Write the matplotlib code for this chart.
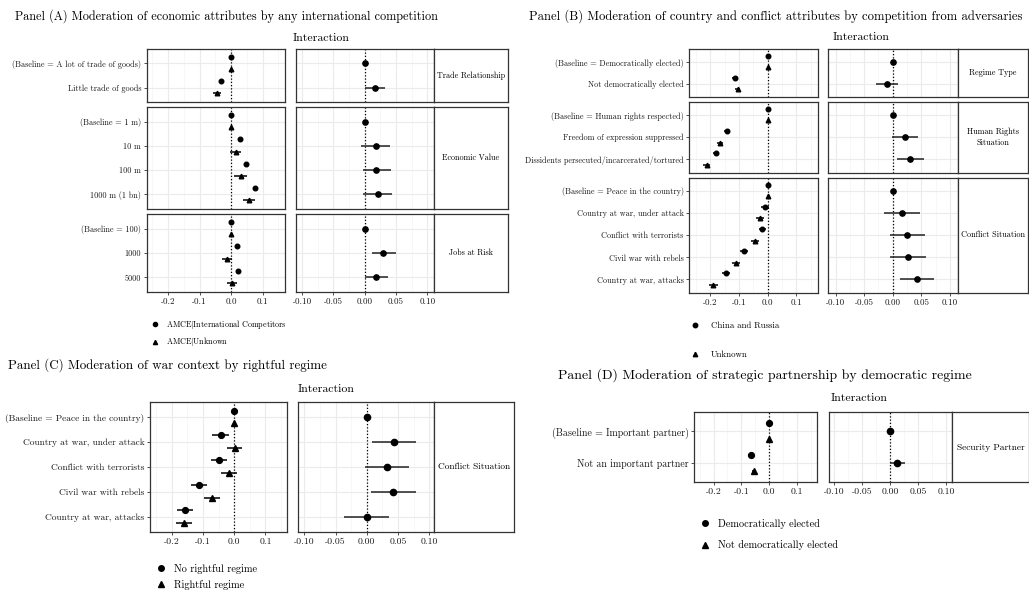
import numpy as np
import matplotlib.pyplot as plt
from matplotlib.lines import Line2D

plt.rcParams['font.family'] = ['cmr10', 'DejaVu Serif']
plt.rcParams['axes.unicode_minus'] = False
plt.rcParams['mathtext.fontset'] = 'cm'

# ---------------- data ----------------
# Panel A : economic attributes x international competition
A_trade_labels = ['(Baseline = A lot of trade of goods)', 'Little trade of goods']
A_trade_comp = [0.0, -0.032]
A_trade_comp_se = [0.0, 0.008]
A_trade_unk = [0.0, -0.044]
A_trade_unk_se = [0.0, 0.013]
A_trade_int = [0.0, 0.016]
A_trade_int_lo = [0.0, 0.000]
A_trade_int_hi = [0.0, 0.032]

A_value_labels = ['(Baseline = 1 m)', '10 m', '100 m', '1000 m (1 bn)']
A_value_comp = [0.0, 0.029, 0.048, 0.076]
A_value_comp_se = [0.0, 0.008, 0.008, 0.008]
A_value_unk = [0.0, 0.014, 0.030, 0.057]
A_value_unk_se = [0.0, 0.018, 0.020, 0.020]
A_value_int = [0.0, 0.0175, 0.0186, 0.0207]
A_value_int_lo = [0.0, -0.005, -0.003, -0.002]
A_value_int_hi = [0.0, 0.040, 0.042, 0.044]

A_jobs_labels = ['(Baseline = 100)', '1000', '5000']
A_jobs_comp = [0.0, 0.020, 0.022]
A_jobs_comp_se = [0.0, 0.008, 0.008]
A_jobs_unk = [0.0, -0.012, 0.003]
A_jobs_unk_se = [0.0, 0.016, 0.017]
A_jobs_int = [0.0, 0.030, 0.018]
A_jobs_int_lo = [0.0, 0.011, 0.000]
A_jobs_int_hi = [0.0, 0.050, 0.038]

# Panel B : country / conflict attributes x adversaries
B_regime_labels = ['(Baseline = Democratically elected)', 'Not democratically elected']
B_regime_cr = [0.0, -0.114]
B_regime_cr_se = [0.0, 0.010]
B_regime_unk = [0.0, -0.105]
B_regime_unk_se = [0.0, 0.010]
B_regime_int = [0.0, -0.0094]
B_regime_int_lo = [0.0, -0.029]
B_regime_int_hi = [0.0, 0.010]

B_rights_labels = ['(Baseline = Human rights respected)', 'Freedom of expression suppressed',
                   'Dissidents persecuted/incarcerated/tortured']
B_rights_cr = [0.0, -0.141, -0.181]
B_rights_cr_se = [0.0, 0.011, 0.011]
B_rights_unk = [0.0, -0.165, -0.212]
B_rights_unk_se = [0.0, 0.011, 0.012]
B_rights_int = [0.0, 0.0215, 0.031]
B_rights_int_lo = [0.0, -0.002, 0.007]
B_rights_int_hi = [0.0, 0.045, 0.055]

war_labels = ['(Baseline = Peace in the country)', 'Country at war, under attack',
              'Conflict with terrorists', 'Civil war with rebels', 'Country at war, attacks']
B_war_cr = [0.0, -0.010, -0.019, -0.083, -0.146]
B_war_cr_se = [0.0, 0.015, 0.013, 0.013, 0.013]
B_war_unk = [0.0, -0.027, -0.044, -0.110, -0.189]
B_war_unk_se = [0.0, 0.014, 0.013, 0.013, 0.015]
B_war_int = [0.0, 0.016, 0.025, 0.027, 0.043]
B_war_int_lo = [0.0, -0.015, -0.005, -0.004, 0.013]
B_war_int_hi = [0.0, 0.048, 0.056, 0.058, 0.073]

# Panel C : war context x rightful regime
C_war_norr = [0.0, -0.044, -0.050, -0.114, -0.159]
C_war_norr_se = [0.0, 0.026, 0.026, 0.026, 0.026]
C_war_rr = [0.0, 0.001, -0.017, -0.071, -0.161]
C_war_rr_se = [0.0, 0.024, 0.025, 0.026, 0.026]
C_war_int = [0.0, 0.043, 0.033, 0.042, 0.000]
C_war_int_lo = [0.0, 0.008, -0.003, 0.007, -0.036]
C_war_int_hi = [0.0, 0.079, 0.068, 0.078, 0.035]

# Panel D : strategic partnership x democratic regime
D_partner_labels = ['(Baseline = Important partner)', 'Not an important partner']
D_partner_dem = [0.0, -0.067]
D_partner_dem_se = [0.0, 0.008]
D_partner_nondem = [0.0, -0.054]
D_partner_nondem_se = [0.0, 0.008]
D_partner_int = [0.0, 0.012]
D_partner_int_lo = [0.0, 0.000]
D_partner_int_hi = [0.0, 0.027]

# ---------------- figure ----------------
W, H = 1029, 591
fig = plt.figure(figsize=(W / 100, H / 100), dpi=100)
ink = '#333333'


def px_axes(x0, y0, x1, y1):
    return fig.add_axes([x0 / W, 1 - y1 / H, (x1 - x0) / W, (y1 - y0) / H])


def style(ax):
    ax.grid(True, which='major', color='#ebebeb', lw=0.8)
    ax.grid(True, which='minor', axis='x', color='#f4f4f4', lw=0.5)
    ax.set_axisbelow(True)
    for s in ax.spines.values():
        s.set_color(ink)
        s.set_linewidth(0.9)
    ax.tick_params(which='both', color=ink, width=0.6, length=2.5, labelcolor='#1a1a1a', pad=1.5)
    ax.tick_params(which='minor', length=0)


def facet(rowL, rowR, xl, xr, xs, labels, e1, s1, e2, s2, ie, ilo, ihi, strip,
          lims_l, lims_r, bottom, lab_fs, tick_fs, strip_fs, ms, ims):
    n = len(labels)
    y = np.arange(n)
    axl = px_axes(xl[0], rowL[0], xl[1], rowL[1])
    axr = px_axes(xr[0], rowR[0], xr[1], rowR[1])
    axs = px_axes(xs[0], rowR[0], xs[1], rowR[1])
    for ax in (axl, axr):
        style(ax)
        ax.set_ylim(n - 1 + 0.6, -0.6)
        ax.set_yticks(y)
        ax.axvline(0, color='black', ls=(0, (1, 1.6)), lw=0.9, zorder=1)
    # left: AMCE by moderator
    axl.set_xlim(*lims_l)
    axl.set_xticks([-0.2, -0.1, 0.0, 0.1])
    axl.set_xticks([-0.25, -0.15, -0.05, 0.05, 0.15], minor=True)
    axl.set_yticklabels(labels, fontsize=lab_fs)
    axl.errorbar(e1, y - 0.27, xerr=s1, fmt='o', ms=ms, color='black', elinewidth=1.1, capsize=0, zorder=3)
    axl.errorbar(e2, y + 0.24, xerr=s2, fmt='^', ms=ms, color='black', elinewidth=1.1, capsize=0, zorder=3)
    # right: interaction
    axr.set_xlim(*lims_r)
    axr.set_xticks([-0.10, -0.05, 0.0, 0.05, 0.10])
    axr.set_xticks([-0.075, -0.025, 0.025, 0.075], minor=True)
    axr.tick_params(axis='y', length=0, labelleft=False)
    ie = np.array(ie)
    axr.errorbar(ie, y, xerr=[ie - np.array(ilo), np.array(ihi) - ie], fmt='o', ms=ims,
                 color='black', ecolor='#222222', elinewidth=1.1, capsize=0, zorder=3)
    if bottom:
        axl.set_xticklabels(['-0.2', '-0.1', '0.0', '0.1'], fontsize=tick_fs)
        axr.set_xticklabels(['-0.10', '-0.05', '0.00', '0.05', '0.10'], fontsize=tick_fs)
    else:
        axl.tick_params(axis='x', length=0, labelbottom=False)
        axr.tick_params(axis='x', length=0, labelbottom=False)
    # strip
    axs.set_xticks([])
    axs.set_yticks([])
    for s in axs.spines.values():
        s.set_color(ink)
        s.set_linewidth(0.9)
    axs.text(0.5, 0.5, strip, ha='center', va='center', fontsize=strip_fs,
             transform=axs.transAxes, linespacing=1.3)


def panel_text(x, y, s, fs, ha='left'):
    fig.text(x / W, 1 - y / H, s, fontsize=fs, ha=ha, va='center', color='black')


def key_legend(x, y, labels, fs, ms, spacing, pad=0.8):
    handles = [Line2D([], [], ls='none', marker='o', ms=ms, color='black'),
               Line2D([], [], ls='none', marker='^', ms=ms, color='black')]
    fig.legend(handles, labels, loc='upper left', bbox_to_anchor=(x / W, 1 - y / H),
               frameon=False, fontsize=fs, handlelength=1.0, handletextpad=pad,
               labelspacing=spacing, borderaxespad=0, borderpad=0)


# ---- Panel A ----
A_xl, A_xr, A_xs = (146.7, 285), (295.7, 434), (434, 508)
A_rows = [(49, 102), (107, 209), (214, 292)]
A_facets = [
    (A_trade_labels, A_trade_comp, A_trade_comp_se, A_trade_unk, A_trade_unk_se,
     A_trade_int, A_trade_int_lo, A_trade_int_hi, 'Trade Relationship'),
    (A_value_labels, A_value_comp, A_value_comp_se, A_value_unk, A_value_unk_se,
     A_value_int, A_value_int_lo, A_value_int_hi, 'Economic Value'),
    (A_jobs_labels, A_jobs_comp, A_jobs_comp_se, A_jobs_unk, A_jobs_unk_se,
     A_jobs_int, A_jobs_int_lo, A_jobs_int_hi, 'Jobs at Risk'),
]
for k, (row, f) in enumerate(zip(A_rows, A_facets)):
    facet(row, row, A_xl, A_xr, A_xs, *f, lims_l=(-0.268, 0.171), lims_r=(-0.11, 0.1107),
          bottom=(k == 2), lab_fs=5.9, tick_fs=6.5, strip_fs=5.8, ms=3.3, ims=3.8)
panel_text(15, 16, 'Panel (A) Moderation of economic attributes by any international competition', 8.8)
panel_text(321, 38, 'Interaction', 8.5, ha='center')
key_legend(151, 318, ['AMCE$|$International Competitors', 'AMCE$|$Unknown'], 5.8, 3.0, 0.55)

# ---- Panel B ----
B_xl, B_xr, B_xs = (689.3, 818.3), (828.3, 957.7), (957.7, 1028.3)
B_rows = [(49, 96.7), (101.7, 172.7), (177.7, 292.7)]
B_facets = [
    (B_regime_labels, B_regime_cr, B_regime_cr_se, B_regime_unk, B_regime_unk_se,
     B_regime_int, B_regime_int_lo, B_regime_int_hi, 'Regime Type'),
    (B_rights_labels, B_rights_cr, B_rights_cr_se, B_rights_unk, B_rights_unk_se,
     B_rights_int, B_rights_int_lo, B_rights_int_hi, 'Human Rights\nSituation'),
    (war_labels, B_war_cr, B_war_cr_se, B_war_unk, B_war_unk_se,
     B_war_int, B_war_int_lo, B_war_int_hi, 'Conflict Situation'),
]
for k, (row, f) in enumerate(zip(B_rows, B_facets)):
    facet(row, row, B_xl, B_xr, B_xs, *f, lims_l=(-0.273, 0.176), lims_r=(-0.1126, 0.1136),
          bottom=(k == 2), lab_fs=5.9, tick_fs=6.5, strip_fs=5.9, ms=3.3, ims=3.8)
panel_text(529, 16, 'Panel (B) Moderation of country and conflict attributes by competition from adversaries', 9.1)
panel_text(861, 37, 'Interaction', 8.5, ha='center')
key_legend(691, 322, ['China and Russia', 'Unknown'], 6.3, 3.2, 2.3, pad=1.3)

# ---- Panel C ----
C_row = (402.3, 531.7)
facet(C_row, C_row, (150, 286.7), (298.3, 434.3), (434.3, 514.3), war_labels,
      C_war_norr, C_war_norr_se, C_war_rr, C_war_rr_se, C_war_int, C_war_int_lo, C_war_int_hi,
      'Conflict Situation', lims_l=(-0.27, 0.168), lims_r=(-0.1096, 0.108),
      bottom=True, lab_fs=6.8, tick_fs=7, strip_fs=6.75, ms=4.2, ims=4.5)
panel_text(8, 365, 'Panel (C) Moderation of war context by rightful regime', 9.35)
panel_text(326, 389, 'Interaction', 8.5, ha='center')
key_legend(156, 564, ['No rightful regime', 'Rightful regime'], 7.4, 4.0, 0.55)

# ---- Panel D ----
D_row = (412.3, 482.3)
facet(D_row, D_row, (694.3, 816.7), (829.3, 951.7), (951.7, 1029), D_partner_labels,
      D_partner_dem, D_partner_dem_se, D_partner_nondem, D_partner_nondem_se,
      D_partner_int, D_partner_int_lo, D_partner_int_hi,
      'Security Partner', lims_l=(-0.269, 0.17), lims_r=(-0.109, 0.1104),
      bottom=True, lab_fs=7.1, tick_fs=7, strip_fs=6.8, ms=4.2, ims=4.5)
panel_text(558, 375, 'Panel (D) Moderation of strategic partnership by democratic regime', 9.9)
panel_text(859, 398, 'Interaction', 8.5, ha='center')
key_legend(700, 519, ['Democratically elected', 'Not democratically elected'], 7.4, 4.0, 1.1)

fig.savefig('out.png', dpi=100)
